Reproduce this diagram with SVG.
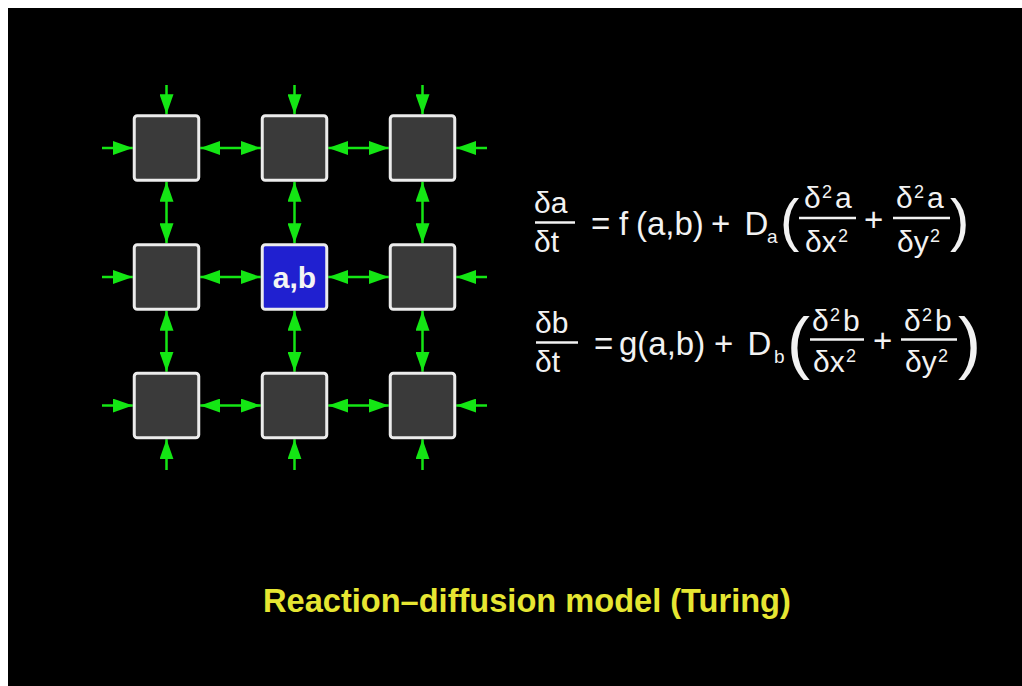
<svg xmlns="http://www.w3.org/2000/svg" width="1022" height="686" viewBox="0 0 1022 686">
<defs>
<style>
.box{fill:#3a3a3a;stroke:#ececec;stroke-width:3}
.sel{fill:#2020d0;stroke:#ececec;stroke-width:3}
.ar{stroke:#14e614;stroke-width:2.5;fill:none}
.t{font-family:"Liberation Sans",Arial,sans-serif;fill:#f2f2f2}
.fr{font-size:30px}
.mn{font-size:33px}
.sp{font-size:18px}
.bar{stroke:#f2f2f2;stroke-width:2.5}
.ttl{font-family:"Liberation Sans",Arial,sans-serif;font-weight:bold;font-size:32.6px;fill:#e6e632}
.lbl{font-family:"Liberation Sans",Arial,sans-serif;font-weight:bold;font-size:30px;fill:#f4f4f4}
</style>
<marker id="ah" viewBox="0 0 20 14" markerWidth="20" markerHeight="14" refX="20" refY="7" orient="auto-start-reverse" markerUnits="userSpaceOnUse">
<path d="M0,0 L20,7 L0,14 Z" fill="#14e614"/>
</marker>
</defs>
<rect x="0" y="0" width="1022" height="686" fill="#ffffff"/>
<rect x="8" y="8" width="1014" height="678" fill="#000000"/>

<g id="connectors">
<!-- outer top -->
<line class="ar" x1="166.5" y1="85" x2="166.5" y2="114.25" marker-end="url(#ah)"/>
<line class="ar" x1="294.5" y1="85" x2="294.5" y2="114.25" marker-end="url(#ah)"/>
<line class="ar" x1="422.5" y1="85" x2="422.5" y2="114.25" marker-end="url(#ah)"/>
<!-- outer bottom -->
<line class="ar" x1="166.5" y1="470" x2="166.5" y2="439.25" marker-end="url(#ah)"/>
<line class="ar" x1="294.5" y1="470" x2="294.5" y2="439.25" marker-end="url(#ah)"/>
<line class="ar" x1="422.5" y1="470" x2="422.5" y2="439.25" marker-end="url(#ah)"/>
<!-- outer left -->
<line class="ar" x1="102" y1="148" x2="132.75" y2="148" marker-end="url(#ah)"/>
<line class="ar" x1="102" y1="277" x2="132.75" y2="277" marker-end="url(#ah)"/>
<line class="ar" x1="102" y1="405.5" x2="132.75" y2="405.5" marker-end="url(#ah)"/>
<!-- outer right -->
<line class="ar" x1="487" y1="148" x2="456.25" y2="148" marker-end="url(#ah)"/>
<line class="ar" x1="487" y1="277" x2="456.25" y2="277" marker-end="url(#ah)"/>
<line class="ar" x1="487" y1="405.5" x2="456.25" y2="405.5" marker-end="url(#ah)"/>
<!-- horizontal between -->
<line class="ar" x1="200.25" y1="148" x2="260.75" y2="148" marker-start="url(#ah)" marker-end="url(#ah)"/>
<line class="ar" x1="328.25" y1="148" x2="388.75" y2="148" marker-start="url(#ah)" marker-end="url(#ah)"/>
<line class="ar" x1="200.25" y1="277" x2="260.75" y2="277" marker-start="url(#ah)" marker-end="url(#ah)"/>
<line class="ar" x1="328.25" y1="277" x2="388.75" y2="277" marker-start="url(#ah)" marker-end="url(#ah)"/>
<line class="ar" x1="200.25" y1="405.5" x2="260.75" y2="405.5" marker-start="url(#ah)" marker-end="url(#ah)"/>
<line class="ar" x1="328.25" y1="405.5" x2="388.75" y2="405.5" marker-start="url(#ah)" marker-end="url(#ah)"/>
<!-- vertical between -->
<line class="ar" x1="166.5" y1="181.75" x2="166.5" y2="243.25" marker-start="url(#ah)" marker-end="url(#ah)"/>
<line class="ar" x1="294.5" y1="181.75" x2="294.5" y2="243.25" marker-start="url(#ah)" marker-end="url(#ah)"/>
<line class="ar" x1="422.5" y1="181.75" x2="422.5" y2="243.25" marker-start="url(#ah)" marker-end="url(#ah)"/>
<line class="ar" x1="166.5" y1="310.75" x2="166.5" y2="371.75" marker-start="url(#ah)" marker-end="url(#ah)"/>
<line class="ar" x1="294.5" y1="310.75" x2="294.5" y2="371.75" marker-start="url(#ah)" marker-end="url(#ah)"/>
<line class="ar" x1="422.5" y1="310.75" x2="422.5" y2="371.75" marker-start="url(#ah)" marker-end="url(#ah)"/>
</g>

<g id="cell-1-1"><rect class="box" x="134.25" y="115.75" width="64.5" height="64.5" rx="3"/></g>
<g id="cell-1-2"><rect class="box" x="262.25" y="115.75" width="64.5" height="64.5" rx="3"/></g>
<g id="cell-1-3"><rect class="box" x="390.25" y="115.75" width="64.5" height="64.5" rx="3"/></g>
<g id="cell-2-1"><rect class="box" x="134.25" y="244.75" width="64.5" height="64.5" rx="3"/></g>
<g id="cell-2-2"><rect class="sel" x="262.25" y="244.75" width="64.5" height="64.5" rx="3"/><text class="lbl" x="294.5" y="288" text-anchor="middle">a,b</text></g>
<g id="cell-2-3"><rect class="box" x="390.25" y="244.75" width="64.5" height="64.5" rx="3"/></g>
<g id="cell-3-1"><rect class="box" x="134.25" y="373.25" width="64.5" height="64.5" rx="3"/></g>
<g id="cell-3-2"><rect class="box" x="262.25" y="373.25" width="64.5" height="64.5" rx="3"/></g>
<g id="cell-3-3"><rect class="box" x="390.25" y="373.25" width="64.5" height="64.5" rx="3"/></g>

<g id="equation-a">
<text class="t fr" x="534" y="212.5">δa</text>
<line class="bar" x1="535" y1="222.5" x2="575" y2="222.5"/>
<text class="t fr" x="534" y="251.5">δt</text>
<text class="t mn" x="591" y="235">=</text>
<text class="t mn" x="619" y="235">f</text>
<text class="t mn" x="636" y="235">(a,b)</text>
<text class="t mn" x="711" y="235">+</text>
<text class="t mn" x="744.5" y="235">D</text>
<text class="t" font-size="19" x="767" y="243">a</text>
<text class="t" font-size="58" x="780" y="240">(</text>
<text class="t fr" x="804" y="208">δ</text>
<text class="t sp" x="822" y="198">2</text>
<text class="t fr" x="835" y="208">a</text>
<line class="bar" x1="799" y1="218" x2="856" y2="218"/>
<text class="t fr" x="805" y="251.5">δx</text>
<text class="t sp" x="838" y="242">2</text>
<text class="t mn" x="864" y="231">+</text>
<text class="t fr" x="896" y="208">δ</text>
<text class="t sp" x="914" y="198">2</text>
<text class="t fr" x="927" y="208">a</text>
<line class="bar" x1="893" y1="218" x2="950" y2="218"/>
<text class="t fr" x="897" y="251.5">δy</text>
<text class="t sp" x="930" y="242">2</text>
<text class="t" font-size="58" x="950" y="240">)</text>
</g>

<g id="equation-b">
<text class="t fr" x="535" y="332.5">δb</text>
<line class="bar" x1="536" y1="342.5" x2="578" y2="342.5"/>
<text class="t fr" x="535" y="371.5">δt</text>
<text class="t mn" x="594" y="355">=</text>
<text class="t mn" x="619" y="355">g(a,b)</text>
<text class="t mn" x="714" y="355">+</text>
<text class="t mn" x="747.5" y="355">D</text>
<text class="t" font-size="19" x="774" y="363">b</text>
<text class="t" font-size="69" x="787" y="365.5">(</text>
<text class="t fr" x="812" y="331">δ</text>
<text class="t sp" x="830" y="321">2</text>
<text class="t fr" x="843" y="331">b</text>
<line class="bar" x1="810" y1="339.5" x2="864" y2="339.5"/>
<text class="t fr" x="813" y="371.5">δx</text>
<text class="t sp" x="846" y="362">2</text>
<text class="t mn" x="873" y="352">+</text>
<text class="t fr" x="904" y="331">δ</text>
<text class="t sp" x="922" y="321">2</text>
<text class="t fr" x="935" y="331">b</text>
<line class="bar" x1="901" y1="339.5" x2="957" y2="339.5"/>
<text class="t fr" x="905" y="371.5">δy</text>
<text class="t sp" x="938" y="362">2</text>
<text class="t" font-size="69" x="958" y="365.5">)</text>
</g>

<g id="title">
<text class="ttl" x="263" y="612">Reaction–diffusion model (Turing)</text>
</g>
</svg>
